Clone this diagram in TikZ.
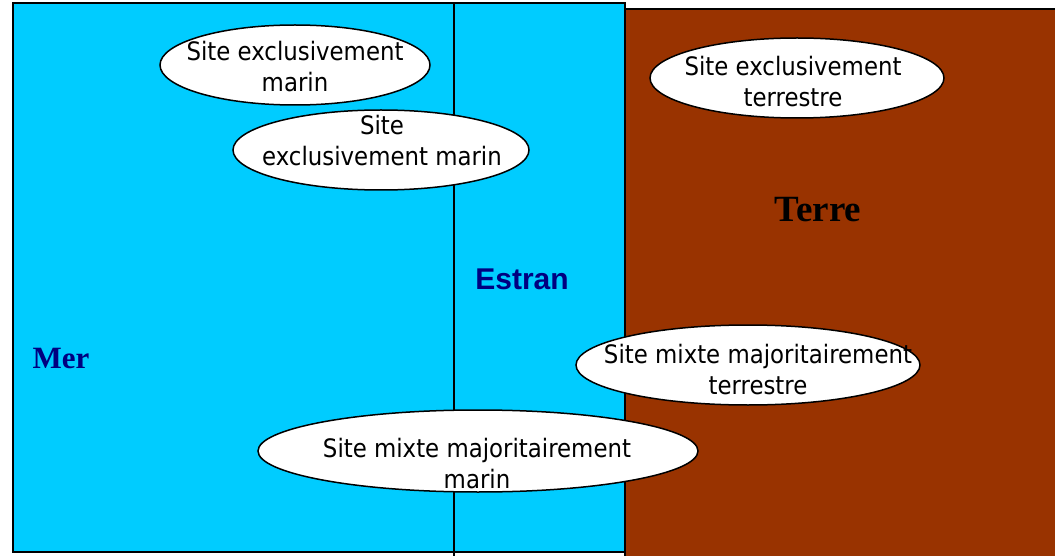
\documentclass[tikz,border=0pt]{standalone}
\usepackage{fontspec}
\usetikzlibrary{shapes.geometric}
\newfontfamily\sitefont{DejaVu Sans}[FakeStretch=0.9]
\newfontfamily\serifbold{Liberation Serif}[BoldFont={Liberation Serif Bold}]
\newfontfamily\sansbold{Liberation Sans}[BoldFont={Liberation Sans Bold}]
\definecolor{mer}{HTML}{00CCFF}
\definecolor{terre}{HTML}{993300}
\definecolor{navyc}{HTML}{000080}
\tikzset{
  zone/.style={draw=black, line width=1.5pt},
  siteell/.style={ellipse, draw=black, fill=white, line width=1.5pt, inner sep=0pt},
  sitetext/.style={font=\sitefont\fontsize{25.4}{31}\selectfont, align=center, inner sep=0pt, text=black},
}
\begin{document}
\begin{tikzpicture}[x=1pt,y=-1pt]
\useasboundingbox (0,0) rectangle (1055,556);
\clip (0,0) rectangle (1055,556);
\fill[white] (0,0) rectangle (1055,556);
% zones
\path[zone, fill=terre] (625,9) rectangle (1070,570);
\path[zone, fill=mer] (13,3) rectangle (625,552);
\coordinate (ltop) at (454,3);
\coordinate (lbot) at (454,558);
\draw[line width=1.5pt] (ltop) -- (lbot);
% zone labels
\node[font=\serifbold\bfseries\fontsize{31}{31}\selectfont, text=navyc, anchor=base] (mer) at (61,368) {Mer};
\node[font=\sansbold\bfseries\fontsize{30}{30}\selectfont, text=navyc, anchor=base] (estran) at (522,289) {Estran};
\node[font=\serifbold\bfseries\fontsize{37}{37}\selectfont, text=black, anchor=base] (terre) at (818,222) {Terre};
% ellipses
\node[siteell, minimum width=270pt, minimum height=80pt] (e1) at (295,65) {};
\node[sitetext] (t1) at (295,67) {Site exclusivement\\marin};
\node[siteell, minimum width=296pt, minimum height=80pt] (e2) at (381,150) {};
\node[sitetext] (t2) at (382,141) {Site\\exclusivement marin};
\node[siteell, minimum width=294pt, minimum height=80pt] (e3) at (797,78) {};
\node[sitetext] (t3) at (793,82) {Site exclusivement\\terrestre};
\node[siteell, minimum width=344pt, minimum height=80pt] (e4) at (748,365) {};
\node[sitetext] (t4) at (758,370) {Site mixte majoritairement\\terrestre};
\node[siteell, minimum width=440pt, minimum height=82pt] (e5) at (478,451) {};
\node[sitetext] (t5) at (477,464) {Site mixte majoritairement\\marin};
\end{tikzpicture}
\end{document}
